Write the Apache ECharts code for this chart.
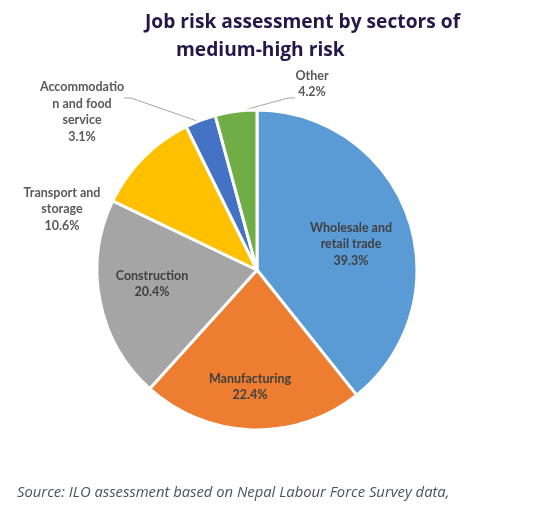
<!DOCTYPE html>
<html>
<head>
<meta charset="utf-8">
<script src="https://cdn.jsdelivr.net/npm/echarts@6/dist/echarts.min.js"></script>
<style>
html,body{margin:0;padding:0;background:#fff;}
#c{width:539px;height:508px;}
</style>
</head>
<body>
<div id="c"></div>
<script>
const categories = ['Wholesale and\nretail trade', 'Manufacturing', 'Construction', 'Transport and\nstorage', 'Accommodatio\nn and food\nservice', 'Other'];
const values = [39.3, 22.4, 20.4, 10.6, 3.1, 4.2];
const colors = ['#5B9BD5', '#ED7D31', '#A5A5A5', '#FFC000', '#4472C4', '#70AD47'];
const titleLine1 = 'Job risk assessment by sectors of';
const titleLine2 = 'medium-high risk';
const sourceText = 'Source: ILO assessment based on Nepal Labour Force Survey data,';

// label layout (positions only)
const labelPos = [[351, 244], [250, 387], [152, 284], [62, 209], [82, 112], [312, 84]];
const insideLabel = [true, true, true, false, false, false];
const leaderLines = {
  4: [[197, 121], [131, 98], [124, 98]],
  5: [[237, 112], [288, 98], [295, 98]]
};

const chart = echarts.init(document.getElementById('c'), null, {renderer: 'canvas'});
chart.setOption({
  backgroundColor: '#ffffff',
  animation: false,
  title: [
    {text: titleLine1, left: 140, top: 8,
     textStyle: {fontFamily: 'Open Sans', fontWeight: 'bold', fontSize: 19.2, color: '#24184a'}},
    {text: titleLine2, left: 171, top: 36,
     textStyle: {fontFamily: 'Open Sans', fontWeight: 'bold', fontSize: 19.2, color: '#24184a'}},
    {text: sourceText, left: 12, top: 480,
     textStyle: {fontFamily: 'Open Sans', fontStyle: 'italic', fontWeight: 'normal', fontSize: 14.8, color: '#4a5162'}}
  ],
  series: [{
    type: 'pie',
    center: [257, 270],
    radius: 160,
    startAngle: 90,
    clockwise: true,
    data: categories.map((n, i) => ({
      name: n, value: values[i],
      itemStyle: {color: colors[i]},
      label: {color: insideLabel[i] ? '#404040' : '#595959', position: insideLabel[i] ? 'inside' : 'outside'},
      labelLine: {show: !!leaderLines[i], lineStyle: {color: '#a6a6a6', width: 1}, length: 20, length2: 10}
    })),
    itemStyle: {borderColor: '#ffffff', borderWidth: 3},
    label: {
      show: true,
      formatter: p => p.name + '\n' + p.value.toFixed(1) + '%',
      fontFamily: 'Lato',
      fontWeight: 'bold',
      fontSize: 12.5,
      lineHeight: 16.5,
      align: 'center',
      overflow: 'none'
    },
    labelLayout: function (p) {
      const pos = labelPos[p.dataIndex];
      const r = {x: pos[0], y: pos[1], align: 'center', verticalAlign: 'middle'};
      if (leaderLines[p.dataIndex]) r.labelLinePoints = leaderLines[p.dataIndex];
      return r;
    },
    emphasis: {disabled: true}
  }]
});
</script>
</body>
</html>
